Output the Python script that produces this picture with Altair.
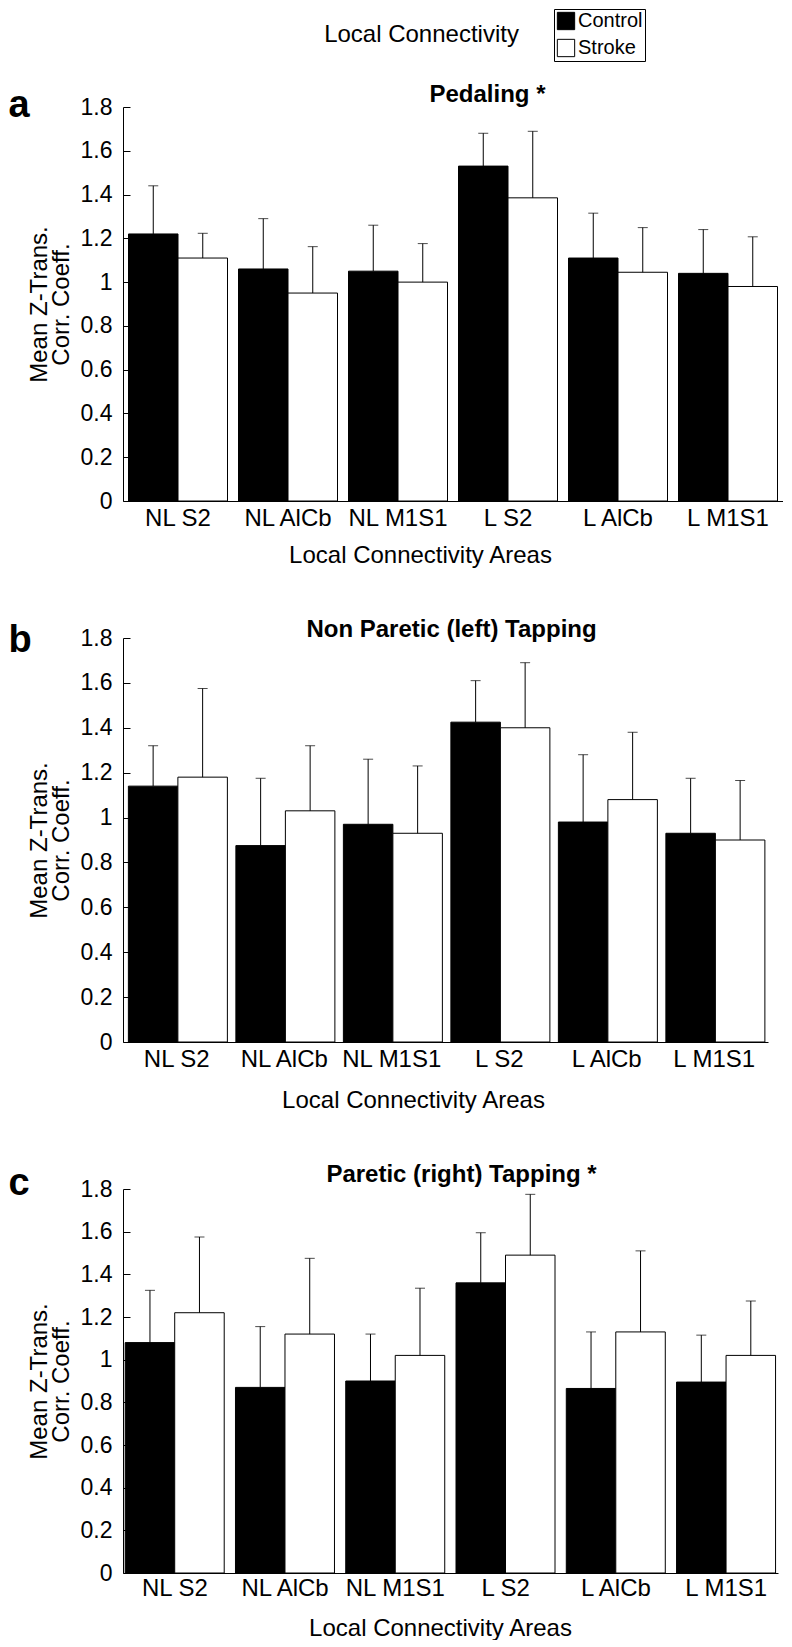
import altair as alt
import pandas as pd

# ---------------- data ----------------
areas = ["NL S2", "NL AlCb", "NL M1S1", "L S2", "L AlCb", "L M1S1"]
groups = ["Control", "Stroke"]
y_ticks = [0, 0.2, 0.4, 0.6, 0.8, 1.0, 1.2, 1.4, 1.6, 1.8]

# (a) Pedaling
pedal_control = [1.22, 1.06, 1.05, 1.53, 1.11, 1.04]
pedal_stroke = [1.11, 0.95, 1.00, 1.385, 1.045, 0.98]
pedal_control_err = [0.22, 0.23, 0.21, 0.15, 0.205, 0.20]
pedal_stroke_err = [0.113, 0.212, 0.176, 0.304, 0.204, 0.227]

# (b) Non paretic (left) tapping
nonpar_control = [1.14, 0.875, 0.97, 1.425, 0.98, 0.93]
nonpar_stroke = [1.18, 1.03, 0.93, 1.40, 1.08, 0.90]
nonpar_control_err = [0.18, 0.30, 0.29, 0.185, 0.30, 0.245]
nonpar_stroke_err = [0.395, 0.29, 0.30, 0.29, 0.30, 0.265]

# (c) Paretic (right) tapping
par_control = [1.08, 0.87, 0.90, 1.36, 0.865, 0.895]
par_stroke = [1.22, 1.12, 1.02, 1.49, 1.13, 1.02]
par_control_err = [0.245, 0.285, 0.22, 0.235, 0.265, 0.22]
par_stroke_err = [0.355, 0.355, 0.315, 0.285, 0.38, 0.255]

FONT = "Liberation Sans"


def make_df(ctrl, strk, ctrl_err, strk_err):
    rows = []
    for i, a in enumerate(areas):
        for g, v, e in (("Control", ctrl[i], ctrl_err[i]), ("Stroke", strk[i], strk_err[i])):
            rows.append({"area": a, "group": g, "value": v, "upper": round(v + e, 4)})
    return pd.DataFrame(rows)


def panel(df, title, letter, width, height, pad_outer, title_x, title_y,
          letter_y, label_pad, xt_x, xt_y, header=False):
    xscale = alt.Scale(domain=areas, paddingInner=0.1, paddingOuter=pad_outer)
    yscale = alt.Scale(domain=[0, 1.8], nice=False)
    xoff = alt.XOffset("group:N", scale=alt.Scale(domain=groups, paddingInner=0, paddingOuter=0))

    if header:
        color = alt.Color(
            "group:N",
            scale=alt.Scale(domain=groups, range=["#000000", "#ffffff"]),
            legend=alt.Legend(
                title=None, orient="none", legendX=431, legendY=-98,
                direction="vertical", symbolType="square", symbolSize=300,
                symbolStrokeColor="black", symbolStrokeWidth=1,
                labelFontSize=20, labelFont=FONT, labelColor="black",
                labelOffset=2, rowPadding=5, padding=2,
                strokeColor="black", fillColor="white",
            ),
        )
        right_axis = alt.Axis(
            orient="right", offset=-width, values=y_ticks, labels=False,
            domain=False, grid=False, ticks=True, tickSize=7, tickColor="black",
            tickWidth=1, title="Local Connectivity", titleAngle=0, titleX=298,
            titleY=-73, titleAlign="center", titleBaseline="middle",
            titleFontSize=24, titleFontWeight="normal",
        )
    else:
        color = alt.Color(
            "group:N",
            scale=alt.Scale(domain=groups, range=["#000000", "#ffffff"]),
            legend=None,
        )
        right_axis = alt.Axis(
            orient="right", offset=-width, values=y_ticks, labels=False,
            domain=False, grid=False, ticks=True, tickSize=7, tickColor="black",
            tickWidth=1, title=None,
        )

    bars = alt.Chart(df).mark_bar(stroke="black", strokeWidth=1).encode(
        x=alt.X(
            "area:N", sort=areas, scale=xscale,
            axis=alt.Axis(
                orient="bottom", labelAngle=0, ticks=False, tickSize=0,
                labelPadding=label_pad, labelBaseline="middle", labelFontSize=24,
                domainColor="black", domainWidth=1, grid=False,
                title="Local Connectivity Areas", titleX=xt_x, titleY=xt_y,
                titleAlign="center", titleBaseline="middle", titleFontSize=24,
                titleFontWeight="normal",
            ),
        ),
        xOffset=xoff,
        y=alt.Y(
            "value:Q", scale=yscale,
            axis=alt.Axis(
                orient="left", values=y_ticks, format="~g", grid=False,
                ticks=False, tickSize=0, labelPadding=11, labelFontSize=23,
                domainColor="black", domainWidth=1,
                title=["Mean Z-Trans.", "Corr. Coeff."], titleFontSize=24,
                titleFontWeight="normal", titleLineHeight=22, titleAngle=270,
                titleX=-84, titleY=height / 2, titleAlign="center",
                titleBaseline="middle",
            ),
        ),
        color=color,
    )

    errs = alt.Chart(df).mark_rule(color="black", strokeWidth=1).encode(
        x=alt.X(
            "area:N", sort=areas, scale=xscale,
            axis=alt.Axis(
                orient="top", labels=False, ticks=False, domain=False, grid=False,
                title=title, titleX=title_x, titleY=title_y, titleAlign="center",
                titleBaseline="middle", titleFontSize=24, titleFontWeight="bold",
            ),
        ),
        xOffset=xoff,
        y=alt.Y("value:Q", scale=yscale, axis=right_axis),
        y2=alt.Y2("upper:Q"),
    )

    caps = alt.Chart(df).mark_tick(
        color="black", orient="horizontal", size=10, thickness=1
    ).encode(
        x=alt.X("area:N", sort=areas, scale=xscale, axis=None),
        xOffset=xoff,
        y=alt.Y(
            "upper:Q", scale=yscale,
            axis=alt.Axis(
                orient="left", labels=False, ticks=False, domain=False, grid=False,
                title=letter, titleAngle=0, titleX=-115, titleY=letter_y,
                titleAlign="left", titleBaseline="alphabetic", titleFontSize=38,
                titleFontWeight="bold",
            ),
        ),
    )

    return alt.layer(bars, errs, caps).resolve_axis(
        x="independent", y="independent"
    ).properties(width=width, height=height)


pa = panel(make_df(pedal_control, pedal_stroke, pedal_control_err, pedal_stroke_err),
           "Pedaling *", "a", 660, 394, 0.05, 364, -13, 9, 17, 297, 54, header=True)
pb = panel(make_df(nonpar_control, nonpar_stroke, nonpar_control_err, nonpar_stroke_err),
           "Non Paretic (left) Tapping", "b", 645, 404, 0.05, 328, -9, 13, 17, 290, 58)
pc = panel(make_df(par_control, par_stroke, par_control_err, par_stroke_err),
           "Paretic (right) Tapping *", "c", 655, 384, 0.02, 338, -15, 5, 15, 317, 55)

chart = (
    alt.vconcat(pa, pb, pc, spacing=50, bounds="full")
    .resolve_legend(color="independent")
    .properties(padding=0)
    .configure(font=FONT)
    .configure_view(strokeWidth=0)
    .configure_axis(labelFont=FONT, titleFont=FONT, labelColor="black",
                    titleColor="black", domainColor="black", tickColor="black")
    .configure_legend(labelFont=FONT, titleFont=FONT)
)

chart.save("out.html", embed_options={"renderer": "svg", "actions": False})
